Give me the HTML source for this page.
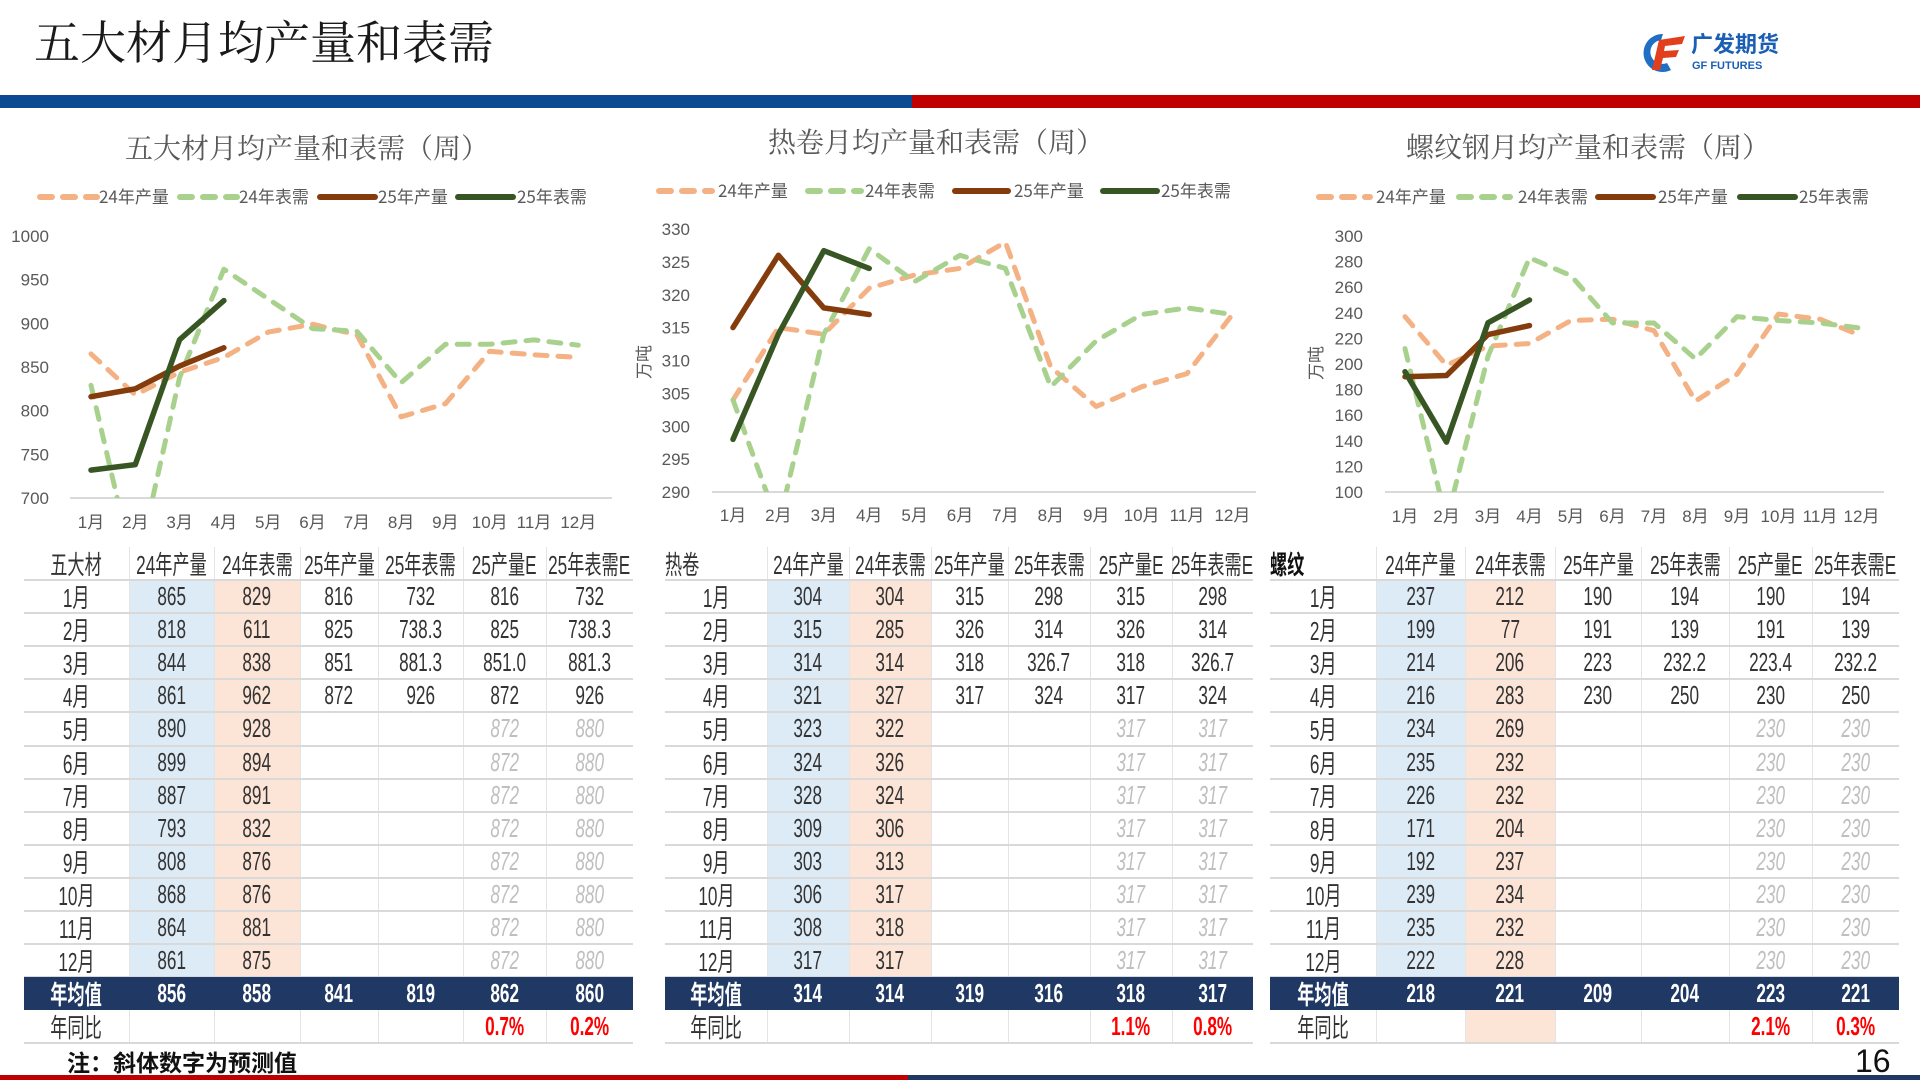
<!DOCTYPE html>
<html><head><meta charset="utf-8"><style>
html,body{margin:0;padding:0;background:#fff;}
#page{position:relative;width:1920px;height:1080px;overflow:hidden;background:#fff;font-family:"Liberation Sans","Noto Sans CJK SC",sans-serif;}
.abs{position:absolute;}
.cell{position:absolute;display:flex;align-items:center;justify-content:center;font-size:26px;color:#333;white-space:nowrap;}
.cell span{display:inline-block;transform:scaleX(0.66);}
</style></head><body>
<div id="page">
<div class="abs" style="left:34px;top:12px;font-family:'Noto Serif CJK SC',serif;font-size:46px;color:#1a1a1a;line-height:56px;">五大材月均产量和表需</div>
<div class="abs" style="left:1641px;top:30px;width:150px;height:42px;">
<svg width="150" height="42"><path d="M22 4 A19 19 0 1 0 30 40 L26 33 A12 12 0 1 1 20 10 Z" fill="#1f6fc5"/><path d="M18 10 L44 6 L41 14 L24 16 L23 21 L38 20 L35 27 L22 28 L19 40 L11 40 Z" fill="#e2401c"/><text x="50" y="22" font-family="'Noto Sans CJK SC',sans-serif" font-weight="bold" font-size="22" fill="#1a5fb4">广发期货</text><text x="51" y="39" font-family="'Liberation Sans',sans-serif" font-weight="bold" font-size="11" fill="#1a5fb4">GF FUTURES</text></svg>
</div>
<div class="abs" style="left:0;top:95px;width:912px;height:13px;background:#0b4a91;"></div>
<div class="abs" style="left:912px;top:95px;width:1008px;height:13px;background:#c00000;"></div>
<div class="abs" style="left:0;top:1075px;width:908px;height:5px;background:#c00000;"></div>
<div class="abs" style="left:908px;top:1075px;width:1012px;height:5px;background:#1f3864;"></div>
<div class="abs" style="left:67px;top:1046px;font-family:'Noto Sans CJK SC',sans-serif;font-weight:bold;font-size:23px;color:#111;line-height:30px;">注：斜体数字为预测值</div>
<div class="abs" style="left:1855px;top:1042px;font-size:32px;color:#111;line-height:38px;">16</div>

<svg id="charts" class="abs" style="left:0;top:0;" width="1920" height="1080">
<g font-family="'Noto Serif CJK SC',serif" font-size="28" fill="#595959" text-anchor="middle">
<text x="307" y="158">五大材月均产量和表需（周）</text>
<text x="936" y="152">热卷月均产量和表需（周）</text>
<text x="1588" y="157">螺纹钢月均产量和表需（周）</text>
</g>
<g font-family="'Noto Sans CJK SC',sans-serif" font-size="17" fill="#595959">
<text transform="translate(650,362) rotate(-90)" text-anchor="middle">万吨</text>
<text transform="translate(1322,363) rotate(-90)" text-anchor="middle">万吨</text>
</g>
<g id="legends" font-family="'Noto Sans CJK SC',sans-serif" font-size="17" fill="#595959"></g>
</svg>
<div id="tables"></div>
</div>
<script>
// ---------- chart data ----------
const months = ['1月','2月','3月','4月','5月','6月','7月','8月','9月','10月','11月','12月'];
const c1Prod24 = [865,818,844,861,890,899,887,793,808,868,864,861];
const c1Dem24 = [829,611,838,962,928,894,891,832,876,876,881,875];
const c1Prod25 = [816,825,851,872];
const c1Dem25 = [732,738.3,881.3,926];
const c1Ticks = [700,750,800,850,900,950,1000];
const c2Prod24 = [304,315,314,321,323,324,328,309,303,306,308,317];
const c2Dem24 = [304,285,314,327,322,326,324,306,313,317,318,317];
const c2Prod25 = [315,326,318,317];
const c2Dem25 = [298,314,326.7,324];
const c2Ticks = [290,295,300,305,310,315,320,325,330];
const c3Prod24 = [237,199,214,216,234,235,226,171,192,239,235,222];
const c3Dem24 = [212,77,206,283,269,232,232,204,237,234,232,228];
const c3Prod25 = [190,191,223,230];
const c3Dem25 = [194,139,232.2,250];
const c3Ticks = [100,120,140,160,180,200,220,240,260,280,300];
const legendLabels = ['24年产量','24年表需','25年产量','25年表需'];

// ---------- table data ----------
const t1Header = ['五大材','24年产量','24年表需','25年产量','25年表需','25产量E','25年表需E'];
const t1P24 = ['865','818','844','861','890','899','887','793','808','868','864','861'];
const t1D24 = ['829','611','838','962','928','894','891','832','876','876','881','875'];
const t1P25 = ['816','825','851','872'];
const t1D25 = ['732','738.3','881.3','926'];
const t1PE = ['816','825','851.0','872','872','872','872','872','872','872','872','872'];
const t1DE = ['732','738.3','881.3','926','880','880','880','880','880','880','880','880'];
const t1Avg = ['856','858','841','819','862','860'];
const t1Yoy = ['','','','','0.7%','0.2%'];
const t2Header = ['热卷','24年产量','24年表需','25年产量','25年表需','25产量E','25年表需E'];
const t2P24 = ['304','315','314','321','323','324','328','309','303','306','308','317'];
const t2D24 = ['304','285','314','327','322','326','324','306','313','317','318','317'];
const t2P25 = ['315','326','318','317'];
const t2D25 = ['298','314','326.7','324'];
const t2PE = ['315','326','318','317','317','317','317','317','317','317','317','317'];
const t2DE = ['298','314','326.7','324','317','317','317','317','317','317','317','317'];
const t2Avg = ['314','314','319','316','318','317'];
const t2Yoy = ['','','','','1.1%','0.8%'];
const t3Header = ['螺纹','24年产量','24年表需','25年产量','25年表需','25产量E','25年表需E'];
const t3P24 = ['237','199','214','216','234','235','226','171','192','239','235','222'];
const t3D24 = ['212','77','206','283','269','232','232','204','237','234','232','228'];
const t3P25 = ['190','191','223','230'];
const t3D25 = ['194','139','232.2','250'];
const t3PE = ['190','191','223.4','230','230','230','230','230','230','230','230','230'];
const t3DE = ['194','139','232.2','250','230','230','230','230','230','230','230','230'];
const t3Avg = ['218','221','209','204','223','221'];
const t3Yoy = ['','','','','2.1%','0.3%'];

const NS='http://www.w3.org/2000/svg';
const svg=document.getElementById('charts');
const COLORS=['#f4b183','#a9d18e','#843c0c','#375623'];

function sv(tag,attrs,parent){const e=document.createElementNS(NS,tag);for(const k in attrs)e.setAttribute(k,attrs[k]);(parent||svg).appendChild(e);return e;}

function drawChart(id,cfg,series,ticks){
  const yScale=v=>cfg.yB+(v-ticks[0])*(cfg.yT-cfg.yB)/(ticks[ticks.length-1]-ticks[0]);
  const xScale=i=>cfg.x0+i*cfg.dx;
  const g=sv('g',{});
  
  
  ticks.forEach(t=>{
    const tx=sv('text',{x:cfg.lx,y:yScale(t)+6,'text-anchor':'end','font-size':17,fill:'#595959','font-family':'Liberation Sans, sans-serif'},g);
    tx.textContent=t;
    
    
  });
  const ax=sv('line',{x1:cfg.a1,x2:cfg.a2,y1:cfg.yB,y2:cfg.yB,stroke:'#d9d9d9','stroke-width':2},g);
  
  
  months.forEach((m,i)=>{
    const tx=sv('text',{x:xScale(i),y:cfg.xl,'text-anchor':'middle','font-size':17,fill:'#595959','font-family':'Liberation Sans, Noto Sans CJK SC, sans-serif'},g);
    tx.textContent=m;
    
    
  });
  const cp=sv('clipPath',{id:id+'-clip'},g);
  sv('rect',{x:cfg.a1,y:cfg.yT-30,width:cfg.a2-cfg.a1,height:cfg.yB-cfg.yT+30},cp);
  const names=['series-24-production','series-24-demand','series-25-production','series-25-demand'];
  series.forEach((arr,si)=>{
    const pts=arr.map((v,i)=>xScale(i).toFixed(1)+','+yScale(v).toFixed(1)).join(' ');
    const pl=sv('polyline',{points:pts,fill:'none',stroke:COLORS[si],'stroke-width':si<2?5:5.5,'stroke-linejoin':'round','stroke-linecap':'round','clip-path':'url(#'+id+'-clip)'},g);
    if(si<2)pl.setAttribute('stroke-dasharray','12 11');
    
    
  });
}
drawChart('chart1',{x0:91,dx:44.3,yT:236,yB:498,lx:49,a1:70,a2:612,xl:528},[c1Prod24,c1Dem24,c1Prod25,c1Dem25],c1Ticks);
drawChart('chart2',{x0:733,dx:45.4,yT:229,yB:492,lx:690,a1:712,a2:1256,xl:521},[c2Prod24,c2Dem24,c2Prod25,c2Dem25],c2Ticks);
drawChart('chart3',{x0:1405,dx:41.5,yT:236,yB:492,lx:1363,a1:1385,a2:1884,xl:522},[c3Prod24,c3Dem24,c3Prod25,c3Dem25],c3Ticks);

// legends
const lg=document.getElementById('legends');
const legendLayouts=[
 {y:197,s:[[40,97],[180,237],[320,375],[458,513]],t:[99,239,378,517]},
 {y:191,s:[[659,712],[808,861],[955,1008],[1103,1157]],t:[718,865,1014,1161]},
 {y:197,s:[[1319,1370],[1459,1510],[1598,1653],[1740,1795]],t:[1376,1518,1658,1799]}];
legendLayouts.forEach(L=>{
  legendLabels.forEach((lab,i)=>{
    const ln=sv('line',{x1:L.s[i][0],x2:L.s[i][1],y1:L.y,y2:L.y,stroke:COLORS[i],'stroke-width':6,'stroke-linecap':'round'},lg);
    if(i<2)ln.setAttribute('stroke-dasharray','12 11');
    
    
    const tx=sv('text',{x:L.t[i],y:L.y+6},lg);
    tx.textContent=lab;
    
    
  });
});

// ---------- tables ----------
const tablesEl=document.getElementById('tables');
const HEAD_TOP=547, ROW_H=33.1, ROW0=580;
function div(style,parent){const d=document.createElement('div');d.style.cssText=style;(parent||tablesEl).appendChild(d);return d;}
function cell(x1,x2,y1,y2,text,extra,name){
  const d=div('left:'+x1+'px;width:'+(x2-x1)+'px;top:'+y1+'px;height:'+(y2-y1)+'px;'+(extra||''));
  d.className='cell';
  
  
  const s=document.createElement('span');s.textContent=text;d.appendChild(s);
  return d;
}
function drawTable(tid,cols,header,p24,d24,p25,d25,pE,dE,avg,yoy,headAlign){
  const bandTop=ROW0+12*ROW_H, yoyTop=bandTop+33, yoyBot=yoyTop+33;
  const wrap=div('position:absolute;left:0;top:0;');
  
  
  // column backgrounds
  const b1=div('position:absolute;left:'+cols[1]+'px;width:'+(cols[2]-cols[1])+'px;top:'+ROW0+'px;height:'+(bandTop-ROW0)+'px;background:#ddebf7;');
  
  
  const b2=div('position:absolute;left:'+cols[2]+'px;width:'+(cols[3]-cols[2])+'px;top:'+ROW0+'px;height:'+((tid==='table-rebar'?yoyBot:bandTop)-ROW0)+'px;background:#fce4d6;');
  
  
  // vertical lines
  for(let c=1;c<cols.length-1;c++){
    const v=div('position:absolute;left:'+cols[c]+'px;width:1px;top:'+HEAD_TOP+'px;height:'+(yoyBot-HEAD_TOP)+'px;background:#e4e4e4;');
    
    
  }
  // horizontal lines
  for(let r=0;r<=12;r++){
    const h=div('position:absolute;left:'+cols[0]+'px;width:'+(cols[7]-cols[0])+'px;top:'+(ROW0+r*ROW_H-1)+'px;height:2px;background:#d9d9d9;');
    
    
  }
  const hb=div('position:absolute;left:'+cols[0]+'px;width:'+(cols[7]-cols[0])+'px;top:'+(yoyBot-1)+'px;height:2px;background:#d9d9d9;');
  
  
  // header
  header.forEach((h,i)=>{
    let ex='';
    if(i===0&&headAlign==='left')ex='justify-content:flex-start;padding-left:0;';
    if(i===0&&tid==='table-rebar')ex+='font-weight:bold;color:#111;';
    const c=cell(cols[i],cols[i+1],HEAD_TOP,ROW0,h,ex,'header-cell');
    if(i===0&&headAlign==='left')c.firstChild.style.transformOrigin='left center';
  });
  // month rows
  months.forEach((m,r)=>{
    const y1=ROW0+r*ROW_H,y2=y1+ROW_H;
    cell(cols[0],cols[1],y1,y2,m,'','month-label');
    cell(cols[1],cols[2],y1,y2,p24[r],'','value-24-production');
    cell(cols[2],cols[3],y1,y2,d24[r],'','value-24-demand');
    if(p25[r]!==undefined)cell(cols[3],cols[4],y1,y2,p25[r],'','value-25-production');
    if(d25[r]!==undefined)cell(cols[4],cols[5],y1,y2,d25[r],'','value-25-demand');
    const est=r>=p25.length?'font-style:italic;color:#bfbfbf;':'';
    cell(cols[5],cols[6],y1,y2,pE[r],est,'value-25-production-est');
    cell(cols[6],cols[7],y1,y2,dE[r],est,'value-25-demand-est');
  });
  // band
  const band=div('position:absolute;left:'+cols[0]+'px;width:'+(cols[7]-cols[0])+'px;top:'+bandTop+'px;height:33px;background:#1f3864;');
  
  
  cell(cols[0],cols[1],bandTop,bandTop+33,'年均值','color:#fff;font-weight:bold;','average-label');
  avg.forEach((v,i)=>cell(cols[i+1],cols[i+2],bandTop,bandTop+33,v,'color:#fff;font-weight:bold;','average-value'));
  cell(cols[0],cols[1],yoyTop,yoyBot,'年同比','','yoy-label');
  yoy.forEach((v,i)=>{if(v)cell(cols[i+1],cols[i+2],yoyTop,yoyBot,v,'color:#ff0000;font-weight:bold;','yoy-value');});
}
drawTable('table-five-materials',[24,129,214,300,378,463,546,633],t1Header,t1P24,t1D24,t1P25,t1D25,t1PE,t1DE,t1Avg,t1Yoy,'center');
drawTable('table-hrc',[665,767,849,931,1008,1090,1172,1253],t2Header,t2P24,t2D24,t2P25,t2D25,t2PE,t2DE,t2Avg,t2Yoy,'left');
drawTable('table-rebar',[1270,1376,1465,1555,1641,1729,1812,1899],t3Header,t3P24,t3D24,t3P25,t3D25,t3PE,t3DE,t3Avg,t3Yoy,'left');
</script>
</body></html>
